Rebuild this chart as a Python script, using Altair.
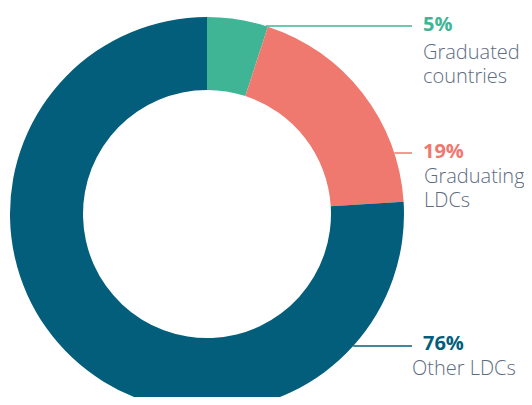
import altair as alt
import numpy as np
import pandas as pd

# ---- data ----
categories = ["Graduated countries", "Graduating LDCs", "Other LDCs"]
shares = [5, 19, 76]
order = [1, 2, 3]
colors = ["#40B596", "#EF796F", "#035E7B"]
pct_labels = ["5%", "19%", "76%"]

# label text lines (category, line text, line index)
label_lines = [
    ("Graduated countries", "Graduated", 0),
    ("Graduated countries", "countries", 1),
    ("Graduating LDCs", "Graduating", 0),
    ("Graduating LDCs", "LDCs", 1),
    ("Other LDCs", "Other LDCs", 0),
]

# ---- layout (pixels inside the chart) ----
W, H = 516, 389
CX, CY = 199, 206
R_OUT, R_IN = 197, 124
leader_y = [18, 145, 338]
leader_end = 404
pct_x = 415
pct_y = [23, 150, 342]
label_x = [415, 416, 404]
label_first_y = [51, 175, 367]
line_step = 24
label_color = "#5E6C80"

df = pd.DataFrame({"category": categories, "share": shares, "order": order,
                   "pct": pct_labels})

color_scale = alt.Scale(domain=categories, range=colors)

donut = alt.Chart(df).mark_arc(radius=R_OUT, radius2=R_IN, stroke=None).encode(
    theta=alt.Theta("share:Q", stack=True),
    order=alt.Order("order:Q"),
    color=alt.Color("category:N", scale=color_scale, legend=None),
    x=alt.value(CX),
    y=alt.value(CY),
)

# leader lines: start where a horizontal line at leader_y meets the outer circle
ly = np.array(leader_y, dtype=float)
lx0 = CX + np.sqrt(R_OUT ** 2 - (ly - CY) ** 2)
lines_df = pd.DataFrame({"category": categories, "x0": lx0,
                         "x1": [leader_end] * 3, "y": ly})
leaders = alt.Chart(lines_df).mark_rule(strokeWidth=1.5).encode(
    x=alt.X("x0:Q", scale=None),
    x2="x1:Q",
    y=alt.Y("y:Q", scale=None),
    color=alt.Color("category:N", scale=color_scale, legend=None),
)

pct_df = pd.DataFrame({"category": categories, "pct": pct_labels,
                       "x": [pct_x] * 3, "y": pct_y})
pcts = alt.Chart(pct_df).mark_text(
    align="left", baseline="alphabetic", font="Open Sans", fontSize=20,
    fontWeight="bold",
).encode(
    x=alt.X("x:Q", scale=None),
    y=alt.Y("y:Q", scale=None),
    text="pct:N",
    color=alt.Color("category:N", scale=color_scale, legend=None),
)

lab_rows = []
for cat, txt, idx in label_lines:
    i = categories.index(cat)
    lab_rows.append({"text": txt, "x": label_x[i],
                     "y": label_first_y[i] + idx * line_step})
lab_df = pd.DataFrame(lab_rows)
labels = alt.Chart(lab_df).mark_text(
    align="left", baseline="alphabetic", font="Open Sans", fontSize=20,
    fontWeight=300, color=label_color,
).encode(
    x=alt.X("x:Q", scale=None),
    y=alt.Y("y:Q", scale=None),
    text="text:N",
)

chart = alt.layer(donut, leaders, pcts, labels).properties(
    width=W, height=H, padding=0, autosize=alt.AutoSizeParams(type="none"),
).configure_view(stroke=None)

chart.save("out.html", embed_options={"renderer": "svg", "actions": False})
